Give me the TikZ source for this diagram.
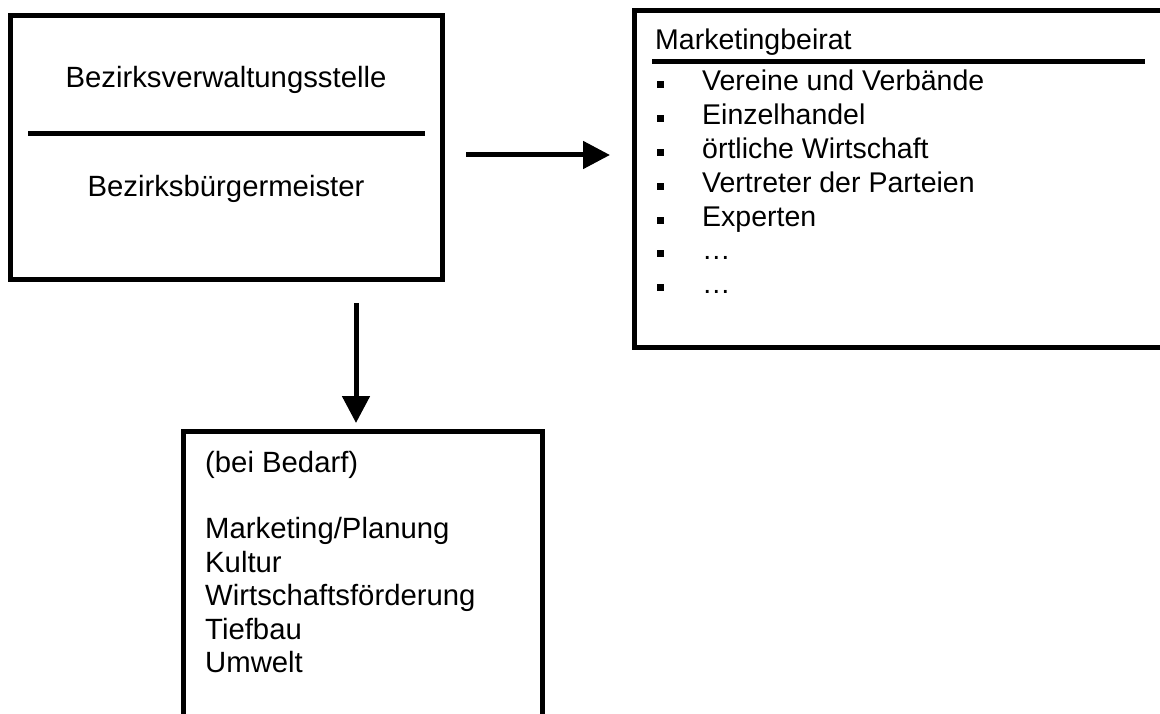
\documentclass[tikz,border=0pt]{standalone}
\usepackage{fontspec}
\setmainfont{Liberation Sans}
\usetikzlibrary{arrows.meta}
\begin{document}
\begin{tikzpicture}[x=1pt,y=-1pt,
  box/.style={draw,line width=5pt,inner sep=0,outer sep=0},
  rule/.style={line width=5pt},
  bigtxt/.style={font=\fontsize{29.3}{34}\selectfont,inner sep=0},
  txt/.style={font=\fontsize{28.5}{33.8}\selectfont,inner sep=0,anchor=base west},
  arr/.style={line width=5pt,-{Triangle[length=27pt,width=27pt]}},
  bul/.style={fill,inner sep=0,minimum size=7pt}]
\useasboundingbox (0,0) rectangle (1160,714);
\clip (0,0) rectangle (1160,714);
% box 1
\node[box,minimum width=432pt,minimum height=264pt] (b1) at (226,148) {};
\node[bigtxt,anchor=base] (t1) at (226,88) {Bezirksverwaltungsstelle};
\node[bigtxt,anchor=base] (t2) at (226,197) {Bezirksbürgermeister};
\coordinate (d1) at (28,134);
\coordinate (d2) at (425,134);
\draw[rule] (d1) -- (d2);
% box 2
\node[box,minimum width=541pt,minimum height=336pt] (b2) at (904.5,179) {};
\node[txt] (h2) at (655,50) {Marketingbeirat};
\coordinate (h2a) at (652,62);
\coordinate (h2b) at (1145,62);
\draw[rule] (h2a) -- (h2b);
\foreach \t [count=\i from 0] in {Vereine und Verbände,Einzelhandel,örtliche Wirtschaft,Vertreter der Parteien,Experten,…,…}{
  \node[txt] (li\i) at (702,91+33.8*\i) {\t};
  \node[bul] (bu\i) at (660,85+33.8*\i) {};
}
% box 3
\node[box,minimum width=359pt,minimum height=309pt] (b3) at (362.5,585.5) {};
\foreach \t [count=\i from 0] in {(bei Bedarf),,Marketing/Planung,Kultur,Wirtschaftsförderung,Tiefbau,Umwelt}{
  \node[bigtxt,anchor=base west] (m\i) at (205,472+33.4*\i) {\t};
}
% arrows
\coordinate (r0) at (466,155);
\coordinate (r1) at (610,155);
\draw[arr] (r0) -- (r1);
\coordinate (v0) at (356,303);
\coordinate (v1) at (356,423);
\draw[arr] (v0) -- (v1);
\end{tikzpicture}
\end{document}
